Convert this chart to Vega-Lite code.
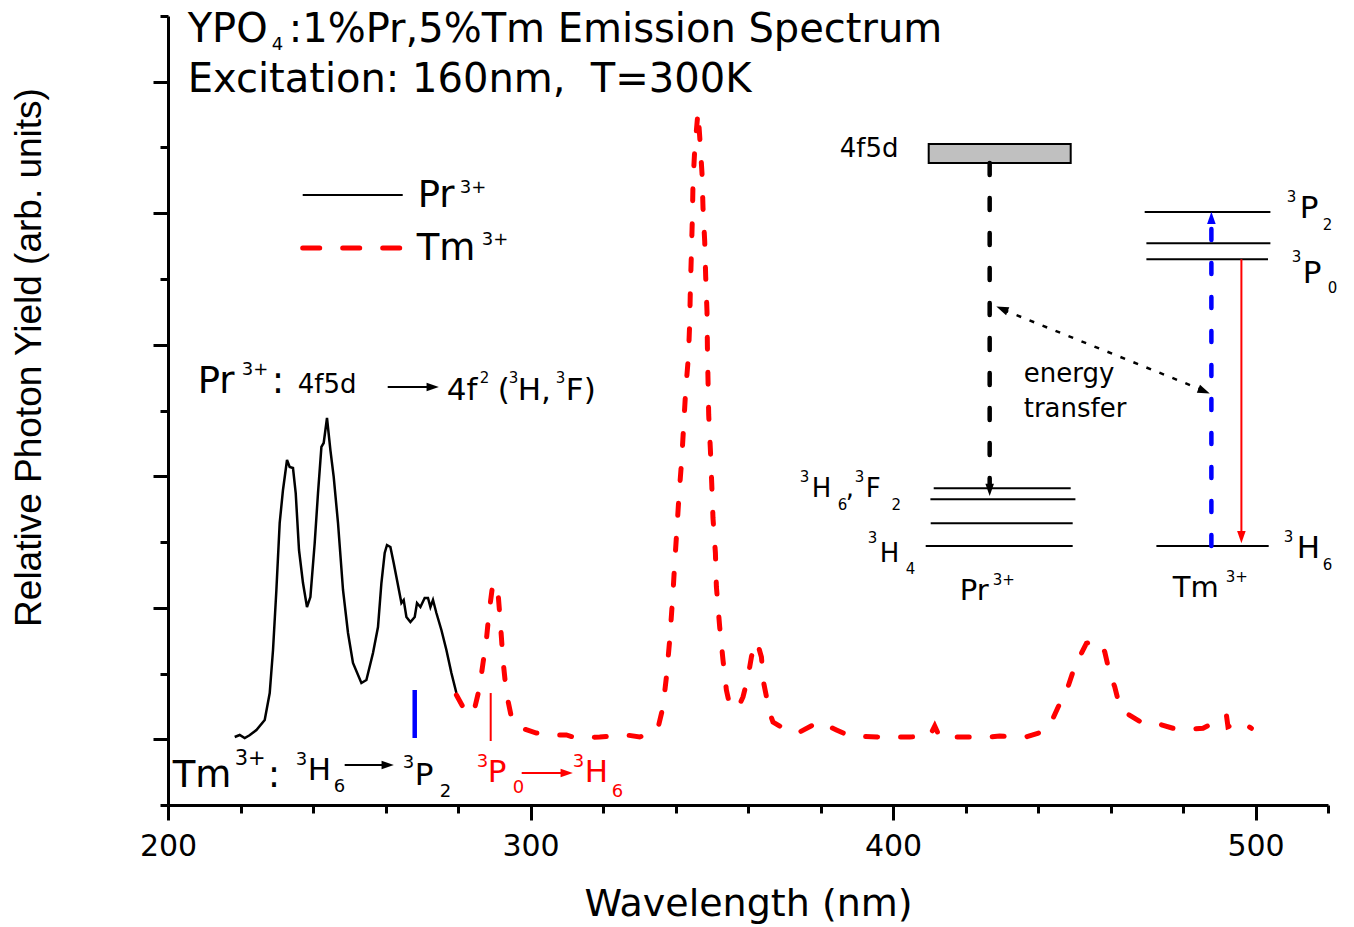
{
"$schema": "https://vega.github.io/schema/vega-lite/v6.json",
"width": 1160, "height": 789,
"autosize": {"type": "none"},
"padding": {"left": 168, "top": 16, "right": 26, "bottom": 122},
"background": "white",
"config": {"view": {"stroke": null}},
"datasets": {
"spec": [
{"x":218.40,"y":1.034,"s":"Pr"},{"x":219.78,"y":1.065,"s":"Pr"},{"x":221.16,"y":1.019,"s":"Pr"},{"x":222.5,"y":1.06,"s":"Pr"},{"x":224.39,"y":1.141,"s":"Pr"},{"x":226.68,"y":1.293,"s":"Pr"},{"x":228.06,"y":1.703,"s":"Pr"},{"x":228.97,"y":2.357,"s":"Pr"},{"x":229.90,"y":3.270,"s":"Pr"},{"x":230.81,"y":4.289,"s":"Pr"},{"x":231.72,"y":4.791,"s":"Pr"},{"x":232.83,"y":5.247,"s":"Pr"},{"x":233.57,"y":5.141,"s":"Pr"},{"x":234.48,"y":5.125,"s":"Pr"},{"x":235.23,"y":4.745,"s":"Pr"},{"x":236.14,"y":3.878,"s":"Pr"},{"x":237.24,"y":3.376,"s":"Pr"},{"x":238.34,"y":3.011,"s":"Pr"},{"x":239.28,"y":3.163,"s":"Pr"},{"x":240.47,"y":3.985,"s":"Pr"},{"x":241.38,"y":4.745,"s":"Pr"},{"x":242.32,"y":5.445,"s":"Pr"},{"x":242.95,"y":5.506,"s":"Pr"},{"x":243.86,"y":5.886,"s":"Pr"},{"x":244.80,"y":5.399,"s":"Pr"},{"x":245.71,"y":4.989,"s":"Pr"},{"x":246.90,"y":4.289,"s":"Pr"},{"x":248.28,"y":3.270,"s":"Pr"},{"x":249.66,"y":2.616,"s":"Pr"},{"x":251.03,"y":2.160,"s":"Pr"},{"x":253.35,"y":1.856,"s":"Pr"},{"x":254.73,"y":1.901,"s":"Pr"},{"x":256.55,"y":2.312,"s":"Pr"},{"x":257.93,"y":2.707,"s":"Pr"},{"x":258.87,"y":3.376,"s":"Pr"},{"x":259.78,"y":3.833,"s":"Pr"},{"x":260.41,"y":3.954,"s":"Pr"},{"x":261.35,"y":3.924,"s":"Pr"},{"x":262.26,"y":3.681,"s":"Pr"},{"x":263.17,"y":3.422,"s":"Pr"},{"x":264.39,"y":3.072,"s":"Pr"},{"x":265.02,"y":3.118,"s":"Pr"},{"x":265.77,"y":2.859,"s":"Pr"},{"x":266.87,"y":2.783,"s":"Pr"},{"x":268.06,"y":2.859,"s":"Pr"},{"x":268.69,"y":3.072,"s":"Pr"},{"x":269.63,"y":3.011,"s":"Pr"},{"x":270.81,"y":3.148,"s":"Pr"},{"x":271.72,"y":3.148,"s":"Pr"},{"x":272.39,"y":3.011,"s":"Pr"},{"x":273.10,"y":3.118,"s":"Pr"},{"x":274.04,"y":2.920,"s":"Pr"},{"x":275.42,"y":2.662,"s":"Pr"},{"x":276.80,"y":2.357,"s":"Pr"},{"x":278.18,"y":2.008,"s":"Pr"},{"x":279.56,"y":1.703,"s":"Pr"},
{"x":279.56,"y":1.673,"s":"Tm"},{"x":281.38,"y":1.490,"s":"Tm"},{"x":283.23,"y":1.369,"s":"Tm"},{"x":284.61,"y":1.475,"s":"Tm"},{"x":285.99,"y":1.795,"s":"Tm"},{"x":286.90,"y":2.160,"s":"Tm"},{"x":287.83,"y":2.510,"s":"Tm"},{"x":288.55,"y":2.920,"s":"Tm"},{"x":289.49,"y":3.316,"s":"Tm"},{"x":290.12,"y":3.376,"s":"Tm"},{"x":291.03,"y":3.240,"s":"Tm"},{"x":291.70,"y":2.768,"s":"Tm"},{"x":292.41,"y":2.205,"s":"Tm"},{"x":293.35,"y":1.703,"s":"Tm"},{"x":294.73,"y":1.338,"s":"Tm"},{"x":296.55,"y":1.186,"s":"Tm"},{"x":301.63,"y":1.095,"s":"Tm"},{"x":305.30,"y":1.065,"s":"Tm"},{"x":309.90,"y":1.065,"s":"Tm"},{"x":312.66,"y":1.019,"s":"Tm"},{"x":319.09,"y":1.034,"s":"Tm"},{"x":326.46,"y":1.065,"s":"Tm"},{"x":330.12,"y":1.034,"s":"Tm"},{"x":332.88,"y":1.095,"s":"Tm"},{"x":335.17,"y":1.171,"s":"Tm"},{"x":336.55,"y":1.490,"s":"Tm"},{"x":337.49,"y":1.947,"s":"Tm"},{"x":338.40,"y":2.510,"s":"Tm"},{"x":339.31,"y":3.224,"s":"Tm"},{"x":339.78,"y":3.681,"s":"Tm"},{"x":340.41,"y":4.213,"s":"Tm"},{"x":340.97,"y":4.715,"s":"Tm"},{"x":341.71,"y":5.247,"s":"Tm"},{"x":342.26,"y":5.779,"s":"Tm"},{"x":342.81,"y":6.304,"s":"Tm"},{"x":343.56,"y":6.818,"s":"Tm"},{"x":343.92,"y":7.331,"s":"Tm"},{"x":344.11,"y":7.883,"s":"Tm"},{"x":344.39,"y":8.395,"s":"Tm"},{"x":344.66,"y":8.948,"s":"Tm"},{"x":344.83,"y":9.468,"s":"Tm"},{"x":345.30,"y":9.966,"s":"Tm"},{"x":346.21,"y":10.544,"s":"Tm"},{"x":346.68,"y":10.164,"s":"Tm"},{"x":347.31,"y":9.608,"s":"Tm"},{"x":347.59,"y":9.080,"s":"Tm"},{"x":348.06,"y":8.567,"s":"Tm"},{"x":348.33,"y":8.035,"s":"Tm"},{"x":348.69,"y":7.503,"s":"Tm"},{"x":348.80,"y":6.970,"s":"Tm"},{"x":348.97,"y":6.464,"s":"Tm"},{"x":349.16,"y":5.932,"s":"Tm"},{"x":349.63,"y":5.399,"s":"Tm"},{"x":349.99,"y":4.897,"s":"Tm"},{"x":350.34,"y":4.365,"s":"Tm"},{"x":351.01,"y":3.833,"s":"Tm"},{"x":351.28,"y":3.320,"s":"Tm"},{"x":352.19,"y":2.707,"s":"Tm"},{"x":353.10,"y":2.205,"s":"Tm"},{"x":354.04,"y":1.749,"s":"Tm"},{"x":354.95,"y":1.521,"s":"Tm"},{"x":357.24,"y":1.475,"s":"Tm"},{"x":358.62,"y":1.643,"s":"Tm"},{"x":360.00,"y":1.947,"s":"Tm"},{"x":360.94,"y":2.251,"s":"Tm"},{"x":361.85,"y":2.479,"s":"Tm"},{"x":362.76,"y":2.433,"s":"Tm"},{"x":363.70,"y":2.251,"s":"Tm"},{"x":364.33,"y":1.856,"s":"Tm"},{"x":365.99,"y":1.399,"s":"Tm"},{"x":366.90,"y":1.262,"s":"Tm"},{"x":371.50,"y":1.110,"s":"Tm"},{"x":374.26,"y":1.110,"s":"Tm"},{"x":377.93,"y":1.217,"s":"Tm"},{"x":379.78,"y":1.262,"s":"Tm"},{"x":384.39,"y":1.141,"s":"Tm"},{"x":388.06,"y":1.049,"s":"Tm"},{"x":396.33,"y":1.034,"s":"Tm"},{"x":404.61,"y":1.034,"s":"Tm"},{"x":410.13,"y":1.049,"s":"Tm"},{"x":411.51,"y":1.202,"s":"Tm"},{"x":412.88,"y":1.034,"s":"Tm"},{"x":418.40,"y":1.034,"s":"Tm"},{"x":426.67,"y":1.034,"s":"Tm"},{"x":429.43,"y":1.049,"s":"Tm"},{"x":436.33,"y":1.030,"s":"Tm"},{"x":441.38,"y":1.115,"s":"Tm"},{"x":443.70,"y":1.267,"s":"Tm"},{"x":446.46,"y":1.597,"s":"Tm"},{"x":448.28,"y":1.799,"s":"Tm"},{"x":450.12,"y":2.103,"s":"Tm"},{"x":451.50,"y":2.255,"s":"Tm"},{"x":453.35,"y":2.459,"s":"Tm"},{"x":455.17,"y":2.484,"s":"Tm"},{"x":457.02,"y":2.484,"s":"Tm"},{"x":458.40,"y":2.332,"s":"Tm"},{"x":459.78,"y":2.003,"s":"Tm"},{"x":461.16,"y":1.799,"s":"Tm"},{"x":462.54,"y":1.495,"s":"Tm"},{"x":464.39,"y":1.395,"s":"Tm"},{"x":468.97,"y":1.243,"s":"Tm"},{"x":472.66,"y":1.243,"s":"Tm"},{"x":477.24,"y":1.167,"s":"Tm"},{"x":480.94,"y":1.151,"s":"Tm"},{"x":485.52,"y":1.167,"s":"Tm"},{"x":488.28,"y":1.243,"s":"Tm"},{"x":491.97,"y":1.369,"s":"Tm"},{"x":492.41,"y":1.191,"s":"Tm"},{"x":496.11,"y":1.267,"s":"Tm"},{"x":498.87,"y":1.167,"s":"Tm"}
],
"segs": [
{"x":237.16,"x2":264.75,"y":9.278,"y2":9.278,"k":"k2"},
{"x":260.61,"x2":272.19,"y":6.357,"y2":6.357,"k":"k2"},
{"x":248.74,"x2":260.06,"y":0.608,"y2":0.608,"k":"k2"},
{"x":411.23,"x2":449.02,"y":4.817,"y2":4.817,"k":"k2"},
{"x":410.32,"x2":450.32,"y":4.649,"y2":4.649,"k":"k2"},
{"x":410.40,"x2":449.57,"y":4.284,"y2":4.284,"k":"k2"},
{"x":409.02,"x2":449.57,"y":3.939,"y2":3.939,"k":"k2"},
{"x":469.43,"x2":504.11,"y":9.019,"y2":9.019,"k":"k2"},
{"x":469.90,"x2":504.11,"y":8.543,"y2":8.543,"k":"k2"},
{"x":469.90,"x2":503.45,"y":8.300,"y2":8.300,"k":"k2"},
{"x":472.66,"x2":503.64,"y":3.939,"y2":3.939,"k":"k2"},
{"x":289.02,"x2":289.02,"y":0.973,"y2":1.703,"k":"r2"},
{"x":297.57,"x2":309.41,"y":0.487,"y2":0.487,"k":"r2"},
{"x":496.11,"x2":496.11,"y":8.300,"y2":4.152,"k":"r2"},
{"x":268.06,"x2":268.06,"y":1.019,"y2":1.749,"k":"bbar"},
{"x":426.67,"x2":426.67,"y":9.764,"y2":4.882,"k":"kd"},
{"x":487.83,"x2":487.83,"y":3.939,"y2":8.821,"k":"bd"},
{"x":430.5,"x2":485.4,"y":7.53,"y2":6.31,"k":"dot"},
{"x":237.16,"x2":264.75,"y":8.471,"y2":8.471,"k":"rleg"}
],
"heads": [
{"x":273.02,"y":6.357,"dir":"right","tone":"k"},
{"x":260.61,"y":0.608,"dir":"right","tone":"k"},
{"x":309.99,"y":0.487,"dir":"right","tone":"r"},
{"x":426.67,"y":4.791,"dir":"down","tone":"k"},
{"x":487.83,"y":8.928,"dir":"up","tone":"b"},
{"x":496.11,"y":4.076,"dir":"down","tone":"r"},
{"x":430.07,"y":7.545,"dir":"ul","tone":"k"},
{"x":485.82,"y":6.295,"dir":"dr","tone":"k"}
],
"box": [{"x":409.85,"x2":449.02,"y":10.053,"y2":9.764}],
"labels": [
{"x":205.43,"y":11.605,"text":"YPO","kind":"T","tone":"k"},
{"x":228.6,"y":11.48,"text":"4","kind":"S","tone":"k"},
{"x":233.3,"y":11.605,"text":":1%Pr,5%Tm Emission Spectrum","kind":"T","tone":"k"},
{"x":205.43,"y":10.844,"text":"Excitation: 160nm,\u00a0 T=300K","kind":"T","tone":"k"},
{"x":268.88,"y":9.095,"text":"Pr","kind":"L","tone":"k"},
{"x":280.47,"y":9.308,"text":"3+","kind":"S","tone":"k"},
{"x":268.61,"y":8.289,"text":"Tm","kind":"L","tone":"k"},
{"x":286.54,"y":8.517,"text":"3+","kind":"S","tone":"k"},
{"x":208.19,"y":6.266,"text":"Pr","kind":"L","tone":"k"},
{"x":220.33,"y":6.540,"text":"3+","kind":"S","tone":"k"},
{"x":228.61,"y":6.266,"text":":","kind":"L","tone":"k"},
{"x":235.78,"y":6.266,"text":"4f5d","kind":"D","tone":"k"},
{"x":276.88,"y":6.160,"text":"4f","kind":"M","tone":"k"},
{"x":286.0,"y":6.418,"text":"2","kind":"s","tone":"k"},
{"x":290.95,"y":6.160,"text":"(","kind":"M","tone":"k"},
{"x":293.99,"y":6.418,"text":"3","kind":"s","tone":"k"},
{"x":296.47,"y":6.160,"text":"H,","kind":"M","tone":"k"},
{"x":306.95,"y":6.418,"text":"3","kind":"s","tone":"k"},
{"x":309.74,"y":6.160,"text":"F)","kind":"M","tone":"k"},
{"x":201.30,"y":0.274,"text":"Tm","kind":"L","tone":"k"},
{"x":218.40,"y":0.608,"text":"3+","kind":"Sb","tone":"k"},
{"x":227.50,"y":0.274,"text":":","kind":"L","tone":"k"},
{"x":235.23,"y":0.608,"text":"3","kind":"S","tone":"k"},
{"x":238.54,"y":0.380,"text":"H","kind":"M","tone":"k"},
{"x":245.71,"y":0.198,"text":"6","kind":"S","tone":"k"},
{"x":264.75,"y":0.563,"text":"3","kind":"S","tone":"k"},
{"x":268.06,"y":0.304,"text":"P","kind":"M","tone":"k"},
{"x":274.95,"y":0.122,"text":"2","kind":"S","tone":"k"},
{"x":285.16,"y":0.578,"text":"3","kind":"S","tone":"r"},
{"x":288.19,"y":0.350,"text":"P","kind":"M","tone":"r"},
{"x":295.10,"y":0.183,"text":"0","kind":"S","tone":"r"},
{"x":311.64,"y":0.578,"text":"3","kind":"S","tone":"r"},
{"x":314.95,"y":0.350,"text":"H","kind":"M","tone":"r"},
{"x":322.40,"y":0.122,"text":"6","kind":"S","tone":"r"},
{"x":385.30,"y":9.856,"text":"4f5d","kind":"D","tone":"k"},
{"x":374.26,"y":4.913,"text":"3","kind":"s","tone":"k"},
{"x":377.57,"y":4.684,"text":"H","kind":"D","tone":"k"},
{"x":384.74,"y":4.487,"text":"6","kind":"s","tone":"k"},
{"x":386.95,"y":4.684,"text":",","kind":"D","tone":"k"},
{"x":389.43,"y":4.913,"text":"3","kind":"s","tone":"k"},
{"x":392.5,"y":4.684,"text":"F","kind":"D","tone":"k"},
{"x":399.6,"y":4.487,"text":"2","kind":"s","tone":"k"},
{"x":393.02,"y":3.985,"text":"3","kind":"s","tone":"k"},
{"x":396.33,"y":3.696,"text":"H","kind":"D","tone":"k"},
{"x":403.50,"y":3.513,"text":"4","kind":"s","tone":"k"},
{"x":418.40,"y":3.118,"text":"Pr","kind":"E","tone":"k"},
{"x":427.50,"y":3.346,"text":"3+","kind":"s","tone":"k"},
{"x":436.06,"y":6.433,"text":"energy","kind":"D","tone":"k"},
{"x":436.06,"y":5.901,"text":"transfer","kind":"D","tone":"k"},
{"x":508.61,"y":9.171,"text":"3","kind":"s","tone":"k"},
{"x":512.19,"y":8.928,"text":"P","kind":"M","tone":"k"},
{"x":518.54,"y":8.745,"text":"2","kind":"s","tone":"k"},
{"x":509.99,"y":8.259,"text":"3","kind":"s","tone":"k"},
{"x":513.02,"y":7.939,"text":"P","kind":"M","tone":"k"},
{"x":519.92,"y":7.787,"text":"0","kind":"s","tone":"k"},
{"x":507.78,"y":4.0,"text":"3","kind":"s","tone":"k"},
{"x":511.37,"y":3.757,"text":"H","kind":"M","tone":"k"},
{"x":518.54,"y":3.574,"text":"6","kind":"s","tone":"k"},
{"x":477.15,"y":3.163,"text":"Tm","kind":"E","tone":"k"},
{"x":491.77,"y":3.392,"text":"3+","kind":"s","tone":"k"}
]
},
"encoding": {
"x": {"field": "x", "type": "quantitative",
 "scale": {"domain": [200, 520], "nice": false, "zero": false},
 "axis": {"title": "Wavelength (nm)", "values": [200,220,240,260,280,300,320,340,360,380,400,420,440,460,480,500,520],
  "labelExpr": "datum.value % 100 === 0 ? datum.label : ''",
  "tickSize": {"condition": {"test": "datum.value % 100 === 0", "value": 15}, "value": 8},
  "labelFont": "DejaVu Sans", "labelFontSize": 30, "labelPadding": 11, "labelColor": "black", "labelFlush": false, "labelOverlap": false,
  "titleFont": "DejaVu Sans", "titleFontSize": 38, "titleFontWeight": "normal", "titleColor": "black", "titlePadding": 24,
  "domainColor": "black", "domainWidth": 3, "tickColor": "black", "tickWidth": 3, "grid": false}},
"y": {"field": "y", "type": "quantitative",
 "scale": {"domain": [0, 12], "nice": false, "zero": false},
 "axis": {"title": "Relative Photon Yield (arb. units)", "values": [0,1,2,3,4,5,6,7,8,9,10,11,12], "labels": false,
  "tickSize": {"condition": {"test": "datum.value % 2 === 1", "value": 15}, "value": 8},
  "titleFont": "Liberation Sans", "titleFontSize": 37, "titleFontWeight": "normal", "titleColor": "black",
  "titleX": -128, "titleY": 341, "titleBaseline": "alphabetic",
  "domainColor": "black", "domainWidth": 3, "tickColor": "black", "tickWidth": 3, "grid": false}}
},
"layer": [
{"data": {"name": "spec"}, "transform": [{"filter": "datum.s === 'Pr'"}],
 "mark": {"type": "line", "color": "black", "strokeWidth": 2.5}},
{"data": {"name": "spec"}, "transform": [{"filter": "datum.s === 'Tm'"}],
 "mark": {"type": "line", "color": "#ff0000", "strokeWidth": 5, "strokeDash": [12, 23], "strokeCap": "round"}},
{"data": {"name": "box"}, "mark": {"type": "rect", "fill": "#c0c0c0", "stroke": "black", "strokeWidth": 2},
 "encoding": {"x2": {"field": "x2"}, "y2": {"field": "y2"}}},
{"data": {"name": "segs"}, "transform": [{"filter": "datum.k === 'k2'"}],
 "mark": {"type": "rule", "color": "black", "strokeWidth": 2},
 "encoding": {"x2": {"field": "x2"}, "y2": {"field": "y2"}}},
{"data": {"name": "segs"}, "transform": [{"filter": "datum.k === 'r2'"}],
 "mark": {"type": "rule", "color": "#ff0000", "strokeWidth": 2},
 "encoding": {"x2": {"field": "x2"}, "y2": {"field": "y2"}}},
{"data": {"name": "segs"}, "transform": [{"filter": "datum.k === 'bbar'"}],
 "mark": {"type": "rule", "color": "#0000ff", "strokeWidth": 4.5},
 "encoding": {"x2": {"field": "x2"}, "y2": {"field": "y2"}}},
{"data": {"name": "segs"}, "transform": [{"filter": "datum.k === 'kd'"}],
 "mark": {"type": "rule", "color": "black", "strokeWidth": 4.5, "strokeDash": [12, 23], "strokeCap": "round"},
 "encoding": {"x2": {"field": "x2"}, "y2": {"field": "y2"}}},
{"data": {"name": "segs"}, "transform": [{"filter": "datum.k === 'bd'"}],
 "mark": {"type": "rule", "color": "#0000ff", "strokeWidth": 4.5, "strokeDash": [11, 23], "strokeCap": "round"},
 "encoding": {"x2": {"field": "x2"}, "y2": {"field": "y2"}}},
{"data": {"name": "segs"}, "transform": [{"filter": "datum.k === 'dot'"}],
 "mark": {"type": "rule", "color": "black", "strokeWidth": 2.5, "strokeDash": [5, 9]},
 "encoding": {"x2": {"field": "x2"}, "y2": {"field": "y2"}}},
{"data": {"name": "segs"}, "transform": [{"filter": "datum.k === 'rleg'"}],
 "mark": {"type": "rule", "color": "#ff0000", "strokeWidth": 5, "strokeDash": [17, 23], "strokeCap": "round"},
 "encoding": {"x2": {"field": "x2"}, "y2": {"field": "y2"}}},
{"data": {"name": "heads"},
 "mark": {"type": "point", "filled": true, "size": 150, "opacity": 1, "strokeWidth": 0},
 "encoding": {
  "shape": {"field": "dir", "type": "nominal", "legend": null,
   "scale": {"domain": ["right","left","down","up","dr","ul"],
    "range": ["M1,0L-1,-0.7L-1,0.7Z","M-1,0L1,-0.7L1,0.7Z","M0,1L-0.7,-1L0.7,-1Z","M0,-1L-0.7,1L0.7,1Z","M0.927,0.375L-0.665,-1.024L-1.19,0.274Z","M-0.927,-0.375L1.19,-0.274L0.665,1.024Z"]}},
  "color": {"field": "tone", "type": "nominal", "legend": null, "scale": {"domain": ["k","r","b"], "range": ["#000000","#ff0000","#0000ff"]}}}},
{"data": {"name": "labels"}, "transform": [{"filter": "datum.kind === 'T'"}],
 "mark": {"type": "text", "font": "DejaVu Sans", "fontSize": 40, "align": "left", "baseline": "alphabetic"},
 "encoding": {"text": {"field": "text"}, "color": {"field": "tone", "type": "nominal", "legend": null, "scale": {"domain": ["k","r","b"], "range": ["#000000","#ff0000","#0000ff"]}}}},
{"data": {"name": "labels"}, "transform": [{"filter": "datum.kind === 'L'"}],
 "mark": {"type": "text", "font": "DejaVu Sans", "fontSize": 37, "align": "left", "baseline": "alphabetic"},
 "encoding": {"text": {"field": "text"}, "color": {"field": "tone", "type": "nominal", "legend": null, "scale": {"domain": ["k","r","b"], "range": ["#000000","#ff0000","#0000ff"]}}}},
{"data": {"name": "labels"}, "transform": [{"filter": "datum.kind === 'M'"}],
 "mark": {"type": "text", "font": "DejaVu Sans", "fontSize": 31, "align": "left", "baseline": "alphabetic"},
 "encoding": {"text": {"field": "text"}, "color": {"field": "tone", "type": "nominal", "legend": null, "scale": {"domain": ["k","r","b"], "range": ["#000000","#ff0000","#0000ff"]}}}},
{"data": {"name": "labels"}, "transform": [{"filter": "datum.kind === 'E'"}],
 "mark": {"type": "text", "font": "DejaVu Sans", "fontSize": 29, "align": "left", "baseline": "alphabetic"},
 "encoding": {"text": {"field": "text"}, "color": {"field": "tone", "type": "nominal", "legend": null, "scale": {"domain": ["k","r","b"], "range": ["#000000","#ff0000","#0000ff"]}}}},
{"data": {"name": "labels"}, "transform": [{"filter": "datum.kind === 'D'"}],
 "mark": {"type": "text", "font": "DejaVu Sans", "fontSize": 26, "align": "left", "baseline": "alphabetic"},
 "encoding": {"text": {"field": "text"}, "color": {"field": "tone", "type": "nominal", "legend": null, "scale": {"domain": ["k","r","b"], "range": ["#000000","#ff0000","#0000ff"]}}}},
{"data": {"name": "labels"}, "transform": [{"filter": "datum.kind === 'Sb'"}],
 "mark": {"type": "text", "font": "DejaVu Sans", "fontSize": 21, "align": "left", "baseline": "alphabetic"},
 "encoding": {"text": {"field": "text"}, "color": {"field": "tone", "type": "nominal", "legend": null, "scale": {"domain": ["k","r","b"], "range": ["#000000","#ff0000","#0000ff"]}}}},
{"data": {"name": "labels"}, "transform": [{"filter": "datum.kind === 'S'"}],
 "mark": {"type": "text", "font": "DejaVu Sans", "fontSize": 18, "align": "left", "baseline": "alphabetic"},
 "encoding": {"text": {"field": "text"}, "color": {"field": "tone", "type": "nominal", "legend": null, "scale": {"domain": ["k","r","b"], "range": ["#000000","#ff0000","#0000ff"]}}}},
{"data": {"name": "labels"}, "transform": [{"filter": "datum.kind === 's'"}],
 "mark": {"type": "text", "font": "DejaVu Sans", "fontSize": 15, "align": "left", "baseline": "alphabetic"},
 "encoding": {"text": {"field": "text"}, "color": {"field": "tone", "type": "nominal", "legend": null, "scale": {"domain": ["k","r","b"], "range": ["#000000","#ff0000","#0000ff"]}}}}
]
}
